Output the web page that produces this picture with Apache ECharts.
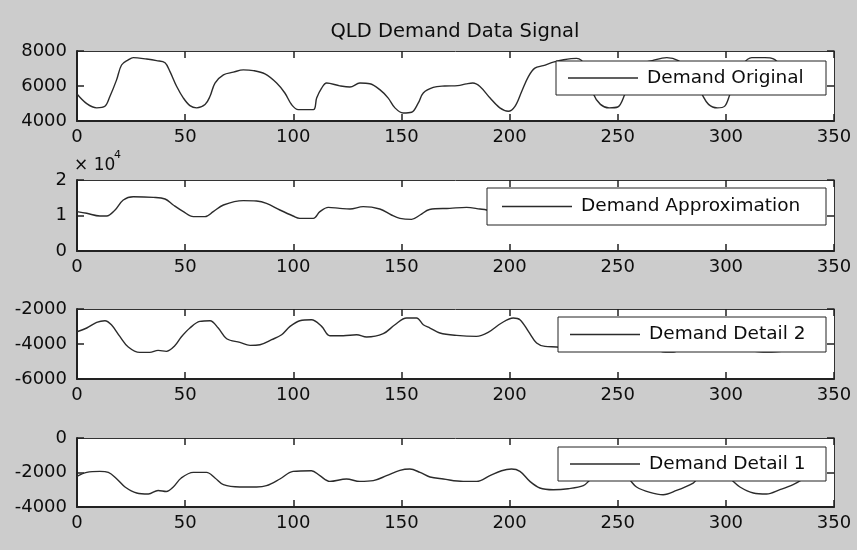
<!DOCTYPE html>
<html>
<head>
<meta charset="utf-8">
<title>QLD Demand Data Signal</title>
<script src="https://cdn.jsdelivr.net/npm/echarts@6/dist/echarts.min.js"></script>
<style>
  html, body { margin: 0; padding: 0; background: #cccccc; }
  #chart { width: 857px; height: 550px; }
</style>
</head>
<body>
<div id="chart"></div>
<script>
// Demand Original
const origX = [0, 4.5, 9.1, 12.9, 15.2, 18.3, 20.6, 23.7, 26, 32.2, 36.8, 40.7, 43, 46.1, 49.2, 52.2, 55.3, 59.2, 61.5, 63.8,
  67.7, 72.3, 76.9, 81.5, 86.9, 92.3, 96.1, 99.2, 102.3, 109.3, 110.8, 113.1, 115.4, 121.5, 126.2, 130.8, 135.4, 140, 143.9, 147,
  150.8, 154.7, 157.8, 160.1, 164.7, 170, 176, 180, 183, 186.3, 191, 195.5, 199.4, 202.5, 205.6, 208.7, 211.7, 215.6, 220.2, 225,
  231, 235, 238.7, 242, 246, 250, 253.4, 257, 261, 266, 272.7, 278, 283, 286, 288.8, 292, 296, 299.5, 302, 305,
  308, 312, 318, 322, 326, 330, 335];
const origY = [5540, 4990, 4750, 4840, 5400, 6350, 7200, 7490, 7620, 7540, 7450, 7330, 6820, 5970, 5310, 4880, 4750, 4940, 5410, 6170,
  6640, 6790, 6920, 6880, 6690, 6170, 5600, 4940, 4650, 4650, 5310, 5880, 6170, 6010, 5940, 6170, 6130, 5790, 5310, 4750,
  4460, 4500, 5030, 5600, 5920, 6000, 6020, 6120, 6170, 5970, 5310, 4750, 4560, 4840, 5690, 6540, 7020, 7160, 7360, 7500,
  7580, 7150, 5560, 4950, 4750, 4800, 5560, 6600, 7250, 7450, 7620, 7450, 6900, 6200, 5560, 4950, 4750, 4850, 5560, 6400,
  7250, 7620, 7620, 7550, 7100, 6400, 5700];

// Demand Approximation
const approxX = [0, 4.5, 10.6, 13.7, 17.6, 21.4, 26, 35.3, 40.7, 44.5, 49.2, 53.8, 59.2, 63, 67.7, 76.9, 83, 87.6, 93.8, 99.9,
  103, 109.3, 112.3, 116.2, 121.5, 126.2, 132.3, 140, 145.4, 149.3, 154.7, 158.6, 163, 172.4, 180.1, 186.3, 189.4, 195, 200, 205,
  210, 215, 222, 230, 236, 241, 246, 251, 256, 262, 270, 277, 283, 289, 295, 300, 305, 311, 318, 324,
  330, 335];
const approxY = [11100, 10620, 9860, 9860, 11550, 14370, 15300, 15120, 14650, 12960, 11080, 9670, 9670, 11080, 12960, 14180, 14080, 13430, 11550, 9860,
  9200, 9200, 11080, 12300, 12020, 11830, 12490, 11830, 10140, 9200, 8920, 10140, 11700, 12020, 12300, 11830, 11550, 10200, 9300, 10100,
  12600, 14100, 14700, 15100, 13800, 11200, 9700, 9800, 12000, 14400, 15100, 14800, 13200, 10800, 9600, 10000, 12400, 14900, 15200, 14600,
  13000, 11400];

// Demand Detail 2
const detail2X = [0, 4.5, 9.1, 12.9, 15.9, 19.8, 23.7, 29, 33.6, 37.5, 41.3, 45.2, 48.2, 52.2, 56.8, 61.5, 65.3, 69.2, 75.3, 80,
  84.6, 90, 94.6, 98.5, 103, 108.4, 113.1, 116.9, 123.1, 129.3, 133.9, 141.6, 147, 152.4, 157, 160.1, 163.2, 167.8, 175.5, 184.7,
  190.1, 196.3, 201.7, 204.8, 208.7, 212.5, 216.4, 221.8, 227, 232, 238, 244, 250, 255, 260, 266, 272, 276.5, 281, 286,
  291, 297, 302, 308, 313.5, 319, 325.7, 330, 335];
const detail2Y = [-3300, -3086, -2766, -2670, -2900, -3566, -4170, -4480, -4480, -4366, -4420, -4100, -3600, -3086, -2710, -2670, -3086, -3700, -3910, -4080,
  -4040, -3754, -3470, -2994, -2670, -2610, -2994, -3526, -3526, -3470, -3600, -3410, -2900, -2514, -2514, -2900, -3086, -3370, -3510, -3566,
  -3340, -2800, -2514, -2610, -3280, -3943, -4137, -4170, -4250, -4000, -3300, -2800, -2600, -2850, -3450, -4150, -4460, -4440, -4000, -3300,
  -2800, -2600, -2900, -3700, -4420, -4460, -4420, -4000, -3500];

// Demand Detail 1
const detail1X = [0, 4.5, 10.6, 14.5, 18.3, 22.2, 27.6, 33, 37.5, 41.3, 44.5, 48.2, 53.8, 59.9, 63.8, 67.7, 75.3, 83, 87.6, 93.8,
  99.9, 108.4, 112.3, 116.9, 124.6, 130.8, 137, 143.1, 149.3, 153.9, 158.6, 163.2, 169.4, 178.6, 184.8, 190.9, 196.3, 200.9, 204.8, 209.4,
  214, 220.2, 227.1, 234.1, 237.2, 242, 247, 252, 255.6, 258.7, 264.9, 271, 277.2, 284.9, 286.4, 290, 295, 299, 302.6, 306.5,
  312.7, 318.8, 325, 331.1, 335];
const detail1Y = [-2226, -1994, -1936, -1994, -2360, -2840, -3188, -3246, -3040, -3100, -2840, -2318, -1994, -1994, -2318, -2707, -2840, -2840, -2765, -2377,
  -1936, -1896, -2186, -2516, -2377, -2516, -2470, -2186, -1878, -1800, -1994, -2260, -2377, -2516, -2516, -2186, -1896, -1800, -1936, -2516,
  -2898, -2997, -2940, -2765, -2430, -2000, -1850, -2000, -2430, -2840, -3154, -3290, -3040, -2610, -2420, -2000, -1850, -2000, -2420, -2840,
  -3188, -3246, -2997, -2707, -2430];

// Axis ranges and tick steps
const xTicks = { min: 0, max: 350, interval: 50 };
const yRanges = [
  { min: 4000, max: 8000, interval: 2000 },
  { min: 0, max: 20000, interval: 10000 },
  { min: -6000, max: -2000, interval: 2000 },
  { min: -4000, max: 0, interval: 2000 }
];
const seriesNames = ['Demand Original', 'Demand Approximation', 'Demand Detail 2', 'Demand Detail 1'];
const titleText = 'QLD Demand Data Signal';

const FONT = '"DejaVu Sans", sans-serif';
const INK = '#0d0d0d';

// Subplot frames (pixel layout)
const panels = [
  { top: 51, height: 70, legendTop: 61, legendH: 33, textW: 171, padL: 12 },
  { top: 180, height: 71, legendTop: 188, legendH: 36, textW: 237, padL: 15 },
  { top: 309, height: 70, legendTop: 317, legendH: 34, textW: 169, padL: 12 },
  { top: 438, height: 69, legendTop: 447, legendH: 33, textW: 169, padL: 12 }
];
const plotLeft = 77, plotRight = 23;

const pairs = (xs, ys) => xs.map((x, i) => [x, ys[i]]);
const seriesData = [
  pairs(origX, origY),
  pairs(approxX, approxY),
  pairs(detail2X, detail2Y),
  pairs(detail1X, detail1Y)
];

const grids = [], xAxes = [], yAxes = [], series = [], legends = [];

panels.forEach((p, i) => {
  grids.push({
    left: plotLeft, right: plotRight, top: p.top, height: p.height,
    show: true, backgroundColor: '#ffffff', borderWidth: 0
  });
  // bottom x axis with labels
  xAxes.push({
    type: 'value', gridIndex: i, position: 'bottom',
    min: xTicks.min, max: xTicks.max, interval: xTicks.interval,
    axisLine: { show: true, onZero: false, lineStyle: { color: '#222', width: 2 } },
    axisTick: { show: true, inside: true, length: 7, lineStyle: { color: '#222', width: 1.5 } },
    axisLabel: { show: true, margin: 7, color: INK, fontFamily: FONT, fontSize: 18 },
    splitLine: { show: false }
  });
  // top frame edge with ticks
  xAxes.push({
    type: 'value', gridIndex: i, position: 'top',
    min: xTicks.min, max: xTicks.max, interval: xTicks.interval,
    axisLine: { show: true, onZero: false, lineStyle: { color: '#333', width: 1 } },
    axisTick: { show: true, inside: true, length: 7, lineStyle: { color: '#222', width: 1.5 } },
    axisLabel: { show: false },
    splitLine: { show: false }
  });
  const yr = yRanges[i];
  yAxes.push({
    type: 'value', gridIndex: i, position: 'left',
    min: yr.min, max: yr.max, interval: yr.interval,
    axisLine: { show: true, onZero: false, lineStyle: { color: '#222', width: 2 } },
    axisTick: { show: true, inside: true, length: 7, lineStyle: { color: '#222', width: 1.5 } },
    axisLabel: {
      show: true, margin: 10, color: INK, fontFamily: FONT, fontSize: 18,
      formatter: i === 1 ? (v) => String(v / 10000) : (v) => String(v)
    },
    splitLine: { show: false }
  });
  yAxes.push({
    type: 'value', gridIndex: i, position: 'right',
    min: yr.min, max: yr.max, interval: yr.interval,
    axisLine: { show: true, onZero: false, lineStyle: { color: '#333', width: 1 } },
    axisTick: { show: true, inside: true, length: 7, lineStyle: { color: '#222', width: 1.5 } },
    axisLabel: { show: false },
    splitLine: { show: false }
  });
  series.push({
    name: seriesNames[i], type: 'line',
    xAxisIndex: i * 2, yAxisIndex: i * 2,
    data: seriesData[i],
    showSymbol: false, smooth: 0.35,
    lineStyle: { color: '#2b2b2b', width: 1.4 },
    itemStyle: { color: '#2b2b2b' },
    z: 2
  });
  const vPad = (p.legendH - 18) / 2;
  legends.push({
    data: [seriesNames[i]],
    right: 31, top: p.legendTop,
    orient: 'horizontal',
    padding: [vPad, 8, vPad, p.padL],
    backgroundColor: '#ffffff',
    borderColor: '#222', borderWidth: 1, borderRadius: 0,
    icon: 'rect', itemWidth: 70, itemHeight: 1.5,
    selectedMode: false,
    textStyle: { color: INK, fontFamily: FONT, fontSize: 18.5, lineHeight: 18, width: p.textW, overflow: 'none', padding: [0, 0, 0, 4] },
    z: 10
  });
});

const chart = echarts.init(document.getElementById('chart'), null, { renderer: 'canvas' });
chart.setOption({
  animation: false,
  backgroundColor: '#cccccc',
  grid: grids,
  xAxis: xAxes,
  yAxis: yAxes,
  series: series,
  legend: legends,
  graphic: [
    {
      type: 'text', x: 455, y: 32,
      style: { text: titleText, fill: INK, font: '19.5px ' + FONT, textAlign: 'center', textVerticalAlign: 'middle', align: 'center', verticalAlign: 'middle' }
    },
    {
      type: 'text', x: 74, y: 166,
      style: { text: '× 10', fill: INK, font: '17px ' + FONT, textAlign: 'left', textVerticalAlign: 'middle', align: 'left', verticalAlign: 'middle' }
    },
    {
      type: 'text', x: 114, y: 155,
      style: { text: '4', fill: INK, font: '11px ' + FONT, textAlign: 'left', textVerticalAlign: 'middle', align: 'left', verticalAlign: 'middle' }
    }
  ]
});
</script>
</body>
</html>
